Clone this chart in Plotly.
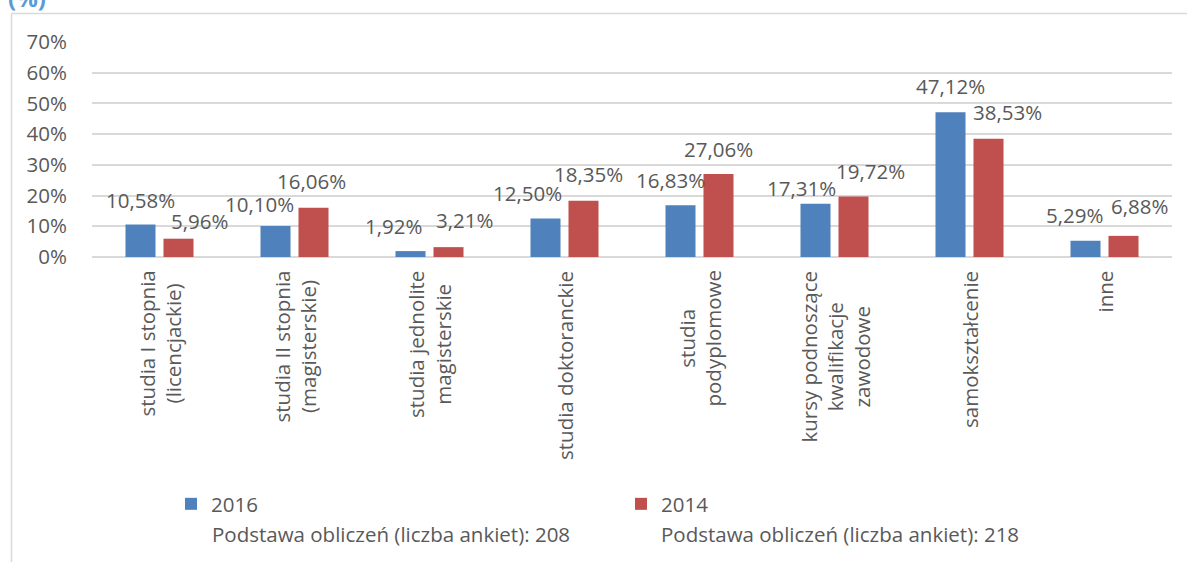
import plotly.graph_objects as go

categories = [
    "studia I stopnia<br>(licencjackie)",
    "studia II stopnia<br>(magisterskie)",
    "studia jednolite<br>magisterskie",
    "studia doktoranckie",
    "studia<br>podyplomowe",
    "kursy podnoszące<br>kwalifikacje<br>zawodowe",
    "samokształcenie",
    "inne",
]
values_2016 = [10.58, 10.10, 1.92, 12.50, 16.83, 17.31, 47.12, 5.29]
values_2014 = [5.96, 16.06, 3.21, 18.35, 27.06, 19.72, 38.53, 6.88]
series_names = ["2016", "2014"]
base_notes = ["Podstawa obliczeń (liczba ankiet): 208", "Podstawa obliczeń (liczba ankiet): 218"]
tick_vals = [0, 10, 20, 30, 40, 50, 60, 70]
tick_text = ["0%", "10%", "20%", "30%", "40%", "50%", "60%", "70%"]

# label offsets (style): (dx, dy) in px relative to bar centre / bar top
label_off_2016 = [(0, 25), (-16, 22), (-17, 25), (-18, 26), (-10, 25), (-14, 16), (0, 26), (-11, 26)]
label_off_2014 = [(21, 18), (-2, 27), (16, 27), (5, 27), (0, 25), (17, 25), (19, 27), (16, 30)]

BLUE = "#4f81bd"
RED = "#c0504d"
TXT = "#595959"
GRID = "#d9d9d9"
FONT = "Open Sans"
FS = 20.5

W, H = 1187, 562
ML, MR, MT, MB = 92, 15, 42, 305
PW = W - ML - MR
PH = H - MT - MB


def px_x(p):
    return (p - ML) / PW


def px_y(p):
    return (H - MB - p) / PH


def fmt(v):
    return f"{v:.2f}".replace(".", ",") + "%"


fig = go.Figure()
fig.add_trace(go.Bar(x=categories, y=values_2016, name=series_names[0], marker_color=BLUE,
                     marker_line_width=0))
fig.add_trace(go.Bar(x=categories, y=values_2014, name=series_names[1], marker_color=RED,
                     marker_line_width=0))

annotations = []
BAR_OFF = 19
for cat, v, (dx, dy) in zip(categories, values_2016, label_off_2016):
    annotations.append(dict(x=cat, y=v, xref="x", yref="y", text=fmt(v), showarrow=False,
                            xanchor="center", yanchor="middle", xshift=-BAR_OFF + dx, yshift=dy,
                            font=dict(family=FONT, size=FS, color=TXT)))
for cat, v, (dx, dy) in zip(categories, values_2014, label_off_2014):
    annotations.append(dict(x=cat, y=v, xref="x", yref="y", text=fmt(v), showarrow=False,
                            xanchor="center", yanchor="middle", xshift=BAR_OFF + dx, yshift=dy,
                            font=dict(family=FONT, size=FS, color=TXT)))
for cat in categories:
    annotations.append(dict(x=cat, y=0, xref="x", yref="y", text=cat, showarrow=False,
                            textangle=-90, align="center", xanchor="center", yanchor="top",
                            yshift=-12, font=dict(family=FONT, size=FS, color=TXT)))
# legend sub-lines
for note, xp in zip(base_notes, [210, 659]):
    annotations.append(dict(x=px_x(xp), y=px_y(534), xref="paper", yref="paper", text=note,
                            showarrow=False, xanchor="left", yanchor="middle",
                            font=dict(family=FONT, size=FS, color=TXT)))
# cut-off unit title
annotations.append(dict(x=px_x(6), y=px_y(-3), xref="paper", yref="paper", text="<b>(%)</b>",
                        showarrow=False, xanchor="left", yanchor="middle",
                        font=dict(family=FONT, size=24, color="#5b9bd5")))

shapes = [
    dict(type="line", xref="paper", yref="paper", x0=px_x(11.5), x1=px_x(11.5),
         y0=px_y(13.5), y1=px_y(600), line=dict(color=GRID, width=1.5)),
    dict(type="line", xref="paper", yref="paper", x0=px_x(11.5), x1=px_x(1200),
         y0=px_y(13.5), y1=px_y(13.5), line=dict(color=GRID, width=1.5)),
]

fig.update_layout(
    width=W, height=H,
    margin=dict(l=ML, r=MR, t=MT, b=MB, pad=0, autoexpand=False),
    paper_bgcolor="white", plot_bgcolor="white",
    barmode="group", bargap=0.437, bargroupgap=0.21,
    font=dict(family=FONT, size=FS, color=TXT),
    showlegend=True,
    legend=dict(orientation="h", x=px_x(171), y=px_y(484), xanchor="left", yanchor="top",
                entrywidth=405, entrywidthmode="pixels", valign="top",
                font=dict(family=FONT, size=FS, color=TXT), bgcolor="rgba(0,0,0,0)",
                itemclick=False, itemdoubleclick=False),
    annotations=annotations,
    shapes=shapes,
)
fig.update_xaxes(showticklabels=False, showgrid=False, zeroline=False, showline=False, ticks="")
fig.update_yaxes(range=[0, 70], tickvals=tick_vals, ticktext=tick_text, showgrid=True,
                 gridcolor=GRID, gridwidth=1.5, zeroline=True, zerolinecolor=GRID, zerolinewidth=1.5,
                 showline=False, ticks="outside", ticklen=20, tickcolor="rgba(0,0,0,0)",
                 tickfont=dict(family=FONT, size=FS, color=TXT))

fig.write_html("out.html", config={"displayModeBar": False},
               post_script="document.body.style.margin='0';document.body.style.overflow='hidden';")
